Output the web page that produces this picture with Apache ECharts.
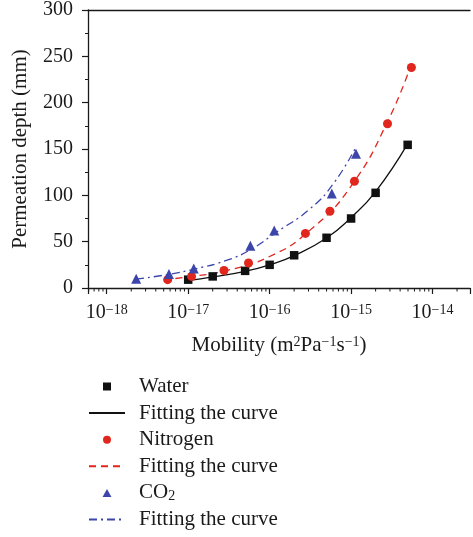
<!DOCTYPE html>
<html>
<head>
<meta charset="utf-8">
<script src="https://cdn.jsdelivr.net/npm/echarts@6/dist/echarts.min.js"></script>
<style>
  html, body { margin: 0; padding: 0; background: #fff; }
  #chart { width: 473px; height: 537px; }
</style>
</head>
<body>
<div id="chart"></div>
<script>
// measured points (mobility, permeation depth)
const waterX = [1e-17, 2e-17, 5e-17, 1e-16, 2e-16, 5e-16, 1e-15, 2e-15, 4.95e-15];
const waterY = [9, 12.5, 18.5, 25, 35.3, 54.2, 75, 102.7, 154.5];
const nitroX = [5.6e-18, 1.1e-17, 2.75e-17, 5.5e-17, 2.75e-16, 5.5e-16, 1.1e-15, 2.8e-15, 5.5e-15];
const nitroY = [9, 12.5, 18.9, 27, 58.9, 82.8, 115.2, 177.3, 238];
const co2X = [2.3e-18, 5.8e-18, 1.17e-17, 5.8e-17, 1.14e-16, 5.8e-16, 1.15e-15];
const co2Y = [10, 15, 21, 45.7, 62, 102, 145];

// fitted curves
const waterFitX = [1e-17, 2e-17, 5e-17, 1e-16, 2e-16, 5e-16, 1e-15, 2e-15, 4.9e-15];
const waterFitY = [8, 12, 18, 25, 35, 54, 76, 104, 155];
const nitroFitX = [5e-18, 1e-17, 3e-17, 1e-16, 3e-16, 1e-15, 3e-15, 5.6e-15];
const nitroFitY = [9, 12, 19, 34, 61, 110, 185, 244];
const co2FitX = [2.3e-18, 6e-18, 1.2e-17, 3e-17, 6e-17, 1.2e-16, 3e-16, 6e-16, 1.16e-15];
const co2FitY = [9.5, 15, 20.5, 30, 42, 60, 84, 112, 153];

const yTicks = [0, 50, 100, 150, 200, 250, 300];
const xDecades = [-19, -18, -17, -16, -15, -14];
const xMin = Math.pow(10, -18.23);
const xMax = Math.pow(10, -13.54);

// log minor ticks 2..9 inside each decade
const xMinor = [];
xDecades.forEach(d => {
  for (let k = 2; k <= 9; k++) {
    const v = k * Math.pow(10, d);
    if (v > xMin && v < xMax) xMinor.push([v, 0]);
  }
});

const zip = (xs, ys) => xs.map((x, i) => [x, ys[i]]);

const FONT = '"Liberation Serif", "DejaVu Serif", serif';
const INK = '#1a1a1a';
const RED = '#e0261d';
const BLUE = '#3c46aa';
const NONE = 'rgba(0,0,0,0)';

const legendNames = {
  water: 'Water', fitW: 'Fitting the curve',
  nitro: 'Nitrogen', fitN: 'Fitting the curve',
  co2: 'CO{sub|2}', fitC: 'Fitting the curve'
};

const chart = echarts.init(document.getElementById('chart'));

chart.setOption({
  animation: false,
  grid: { left: 88, top: 8, right: -2, bottom: 249 },
  xAxis: [{
    type: 'log',
    logBase: 10,
    min: xMin,
    max: xMax,
    splitNumber: 5,
    name: 'Mobility (m{sup|2}Pa{sup|\u22121}s{sup|\u22121})',
    nameLocation: 'middle',
    nameGap: 47,
    nameTextStyle: {
      fontFamily: FONT, fontSize: 21, color: INK,
      rich: {
        sup: { fontFamily: FONT, fontSize: 14, lineHeight: 12, verticalAlign: 'top', color: INK }
      }
    },
    axisLine: { lineStyle: { color: INK, width: 1.3 } },
    axisTick: { inside: false, length: 6, lineStyle: { color: INK, width: 1.2 } },
    minorTick: { show: false },
    splitLine: { show: false },
    axisLabel: {
      margin: 15,
      fontFamily: FONT, fontSize: 20, color: INK,
      formatter: function (v) {
        const e = Math.round(Math.log10(v));
        if (Math.abs(Math.log10(v) - e) > 0.01) return '';
        return '10{sup|' + (e < 0 ? '\u2212' : '') + Math.abs(e) + '}';
      },
      rich: {
        sup: { fontFamily: FONT, fontSize: 14, lineHeight: 12, verticalAlign: 'top', color: INK }
      }
    }
  }, {
    type: 'value',
    position: 'top',
    min: 0, max: 1,
    axisLine: { show: true, lineStyle: { color: INK, width: 1.3 } },
    axisTick: { show: false },
    axisLabel: { show: false },
    splitLine: { show: false }
  }],
  yAxis: {
    type: 'value',
    min: yTicks[0],
    max: yTicks[yTicks.length - 1],
    interval: 50,
    name: 'Permeation depth (mm)',
    nameLocation: 'middle',
    nameGap: 57,
    nameTextStyle: { fontFamily: FONT, fontSize: 21, color: INK },
    axisLine: { show: true, lineStyle: { color: INK, width: 1.3 } },
    axisTick: { show: true, inside: false, length: 6, lineStyle: { color: INK, width: 1.2 } },
    minorTick: { show: true, splitNumber: 2, length: 3, lineStyle: { color: INK, width: 1 } },
    splitLine: { show: false },
    axisLabel: { margin: 15, fontFamily: FONT, fontSize: 20, color: INK }
  },
  legend: {
    orient: 'vertical',
    left: 88,
    top: 376,
    padding: 0,
    itemWidth: 36,
    itemHeight: 8,
    itemGap: 5.6,
    data: [
      { name: 'water', icon: 'path://M0,0L1,0L1,1L0,1Z' },
      { name: 'fitW', itemStyle: { color: NONE, borderWidth: 0 } },
      { name: 'nitro', icon: 'circle' },
      { name: 'fitN', itemStyle: { color: NONE, borderWidth: 0 } },
      { name: 'co2', icon: 'path://M0.5,0L1,0.9L0,0.9Z' },
      { name: 'fitC', itemStyle: { color: NONE, borderWidth: 0 } }
    ],
    formatter: name => legendNames[name],
    textStyle: {
      fontFamily: FONT, fontSize: 21, color: INK, lineHeight: 20,
      padding: [0, 0, 0, 9],
      rich: {
        sub: { fontFamily: FONT, fontSize: 14, lineHeight: 8, verticalAlign: 'bottom', color: INK }
      }
    }
  },
  series: [
    {
      name: 'water', type: 'scatter', data: zip(waterX, waterY),
      symbol: 'rect', symbolSize: 8.5, itemStyle: { color: '#111', opacity: 1 }, z: 5
    },
    {
      name: 'fitW', type: 'line', data: zip(waterFitX, waterFitY), smooth: true,
      symbol: 'none', lineStyle: { color: '#111', width: 1.3, type: 'solid' }, z: 3
    },
    {
      name: 'nitro', type: 'scatter', data: zip(nitroX, nitroY),
      symbol: 'circle', symbolSize: 9, itemStyle: { color: RED, opacity: 1 }, z: 5
    },
    {
      name: 'fitN', type: 'line', data: zip(nitroFitX, nitroFitY), smooth: true,
      symbol: 'none', lineStyle: { color: RED, width: 1.3, type: [7, 5] }, z: 3
    },
    {
      name: 'co2', type: 'scatter', data: zip(co2X, co2Y),
      symbol: 'triangle', symbolSize: 10, itemStyle: { color: BLUE, opacity: 1 }, z: 5
    },
    {
      name: 'fitC', type: 'line', data: zip(co2FitX, co2FitY), smooth: true,
      symbol: 'none', lineStyle: { color: BLUE, width: 1.3, type: [8, 4, 2, 4] }, z: 3
    },
    {
      // minor ticks of the log axis, drawn through the axis scale
      name: 'minorTicks', type: 'custom', data: xMinor, silent: true, clip: false, z: 2,
      renderItem: function (params, api) {
        const p = api.coord([api.value(0), 0]);
        return {
          type: 'line',
          shape: { x1: p[0], y1: p[1], x2: p[0], y2: p[1] + 3.5 },
          style: { stroke: INK, lineWidth: 1 }
        };
      }
    }
  ]
});
</script>
</body>
</html>
